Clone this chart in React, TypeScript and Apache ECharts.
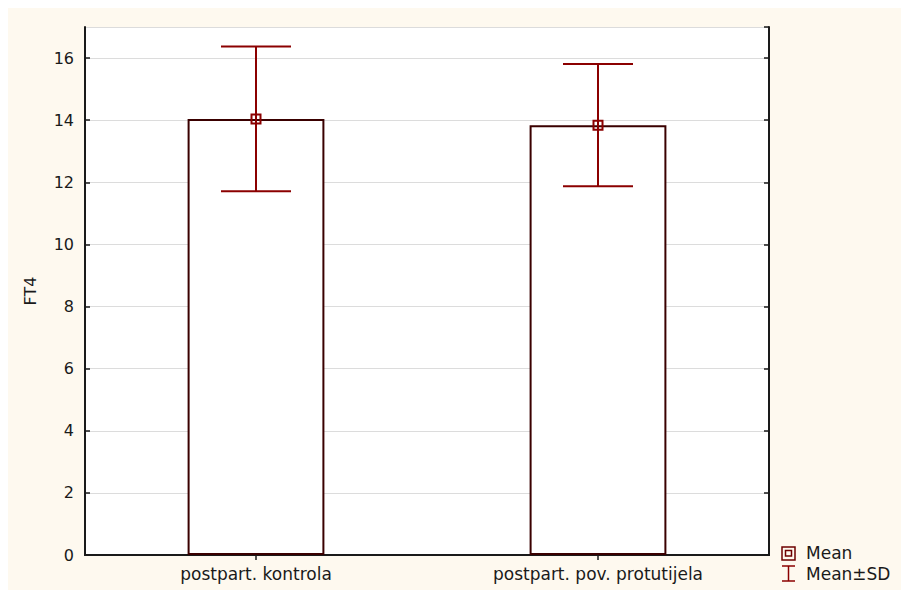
import React, { useEffect, useRef } from "react";
import * as echarts from "echarts";

const categories = ["postpart. kontrola", "postpart. pov. protutijela"];
const means = [14.04, 13.84];
const sds = [2.33, 1.97];
const yTicksMax = 17;
const yInterval = 2;
const legendLabels = ["Mean", "Mean±SD"];

const FONT = "DejaVu Sans";
const ERR = "#8b0000";

export default function App() {
  const ref = useRef<HTMLDivElement>(null);
  useEffect(() => {
    if (!ref.current) return;
    const chart = echarts.init(ref.current, null, { renderer: "svg" });
    const errData = categories.map((_, i) => [i, means[i], sds[i]]);
    chart.setOption({
      animation: false,
      backgroundColor: "#fef9ef",
      textStyle: { fontFamily: FONT },
      grid: {
        left: 77,
        top: 19,
        right: 132,
        bottom: 35,
        show: true,
        backgroundColor: "#ffffff",
        borderWidth: 0,
      },
      xAxis: [
        {
          type: "category",
          data: categories,
          position: "bottom",
          axisLine: { show: true, lineStyle: { color: "#1a1a1a", width: 2 } },
          axisTick: { show: true, alignWithLabel: true, inside: true, length: 5, lineStyle: { color: "#1a1a1a", width: 1.5 } },
          axisLabel: { color: "#1a1a1a", fontSize: 17, fontFamily: FONT, margin: 10 },
          splitLine: { show: false },
        },
        {
          type: "category",
          data: categories,
          position: "top",
          axisLine: { show: true, lineStyle: { color: "#1a1a1a", width: 2 } },
          axisTick: { show: true, alignWithLabel: true, inside: true, length: 5, lineStyle: { color: "#1a1a1a", width: 1.5 } },
          axisLabel: { show: false },
          splitLine: { show: false },
        },
      ],
      yAxis: [
        {
          type: "value",
          min: 0,
          max: yTicksMax,
          interval: yInterval,
          position: "left",
          name: "FT4",
          nameLocation: "middle",
          nameGap: 47,
          nameTextStyle: { color: "#1a1a1a", fontSize: 16, fontFamily: FONT },
          axisLine: { show: true, lineStyle: { color: "#1a1a1a", width: 2 } },
          axisTick: { show: true, inside: true, length: 5, lineStyle: { color: "#1a1a1a", width: 1.5 } },
          axisLabel: { color: "#1a1a1a", fontSize: 16, fontFamily: FONT, margin: 11, showMaxLabel: false },
          splitLine: { show: true, lineStyle: { color: "#dcdcdc", width: 1 } },
        },
        {
          type: "value",
          min: 0,
          max: yTicksMax,
          interval: yInterval,
          position: "right",
          axisLine: { show: true, lineStyle: { color: "#1a1a1a", width: 2 } },
          axisTick: { show: true, inside: true, length: 5, lineStyle: { color: "#1a1a1a", width: 1.5 } },
          axisLabel: { show: false },
          splitLine: { show: false },
        },
      ],
      series: [
        {
          type: "bar",
          data: means,
          xAxisIndex: 0,
          yAxisIndex: 0,
          barWidth: "40%",
          itemStyle: { color: "#ffffff", borderColor: "#3a0000", borderWidth: 2 },
          z: 2,
        },
        {
          type: "custom",
          xAxisIndex: 0,
          yAxisIndex: 0,
          data: errData,
          encode: { x: 0, y: 1 },
          z: 5,
          renderItem: (params: any, api: any) => {
            const x = api.value(0);
            const m = api.value(1);
            const s = api.value(2);
            const top = api.coord([x, m + s]);
            const bot = api.coord([x, m - s]);
            const mid = api.coord([x, m]);
            const hw = 35;
            const ls = { stroke: ERR, lineWidth: 2 };
            return {
              type: "group",
              children: [
                { type: "line", shape: { x1: top[0], y1: top[1], x2: bot[0], y2: bot[1] }, style: ls },
                { type: "line", shape: { x1: top[0] - hw, y1: top[1], x2: top[0] + hw, y2: top[1] }, style: ls },
                { type: "line", shape: { x1: bot[0] - hw, y1: bot[1], x2: bot[0] + hw, y2: bot[1] }, style: ls },
                {
                  type: "rect",
                  shape: { x: mid[0] - 4.5, y: mid[1] - 4.5, width: 9, height: 9 },
                  style: { fill: "none", stroke: ERR, lineWidth: 2 },
                },
              ],
            };
          },
        },
      ],
      graphic: [
        { type: "rect", shape: { x: 774, y: 539, width: 13, height: 13 }, style: { fill: "none", stroke: "#6e0000", lineWidth: 1.5 } },
        { type: "rect", shape: { x: 777.5, y: 542.5, width: 6, height: 5.5 }, style: { fill: "none", stroke: "#6e0000", lineWidth: 1.5 } },
        { type: "text", x: 798, y: 545, style: { text: legendLabels[0], fill: "#1a1a1a", fontSize: 17, fontFamily: FONT, verticalAlign: "middle" } },
        { type: "line", shape: { x1: 780.5, y1: 558, x2: 780.5, y2: 573 }, style: { stroke: ERR, lineWidth: 1.5 } },
        { type: "line", shape: { x1: 774, y1: 558, x2: 787, y2: 558 }, style: { stroke: ERR, lineWidth: 1.5 } },
        { type: "line", shape: { x1: 774, y1: 573, x2: 787, y2: 573 }, style: { stroke: ERR, lineWidth: 1.5 } },
        { type: "text", x: 798, y: 566, style: { text: legendLabels[1], fill: "#1a1a1a", fontSize: 17, fontFamily: FONT, verticalAlign: "middle" } },
      ],
    });
    return () => chart.dispose();
  }, []);
  return (
    <div
      ref={ref}
      style={{ position: "absolute", left: 8, top: 8, width: 893, height: 582 }}
    />
  );
}
